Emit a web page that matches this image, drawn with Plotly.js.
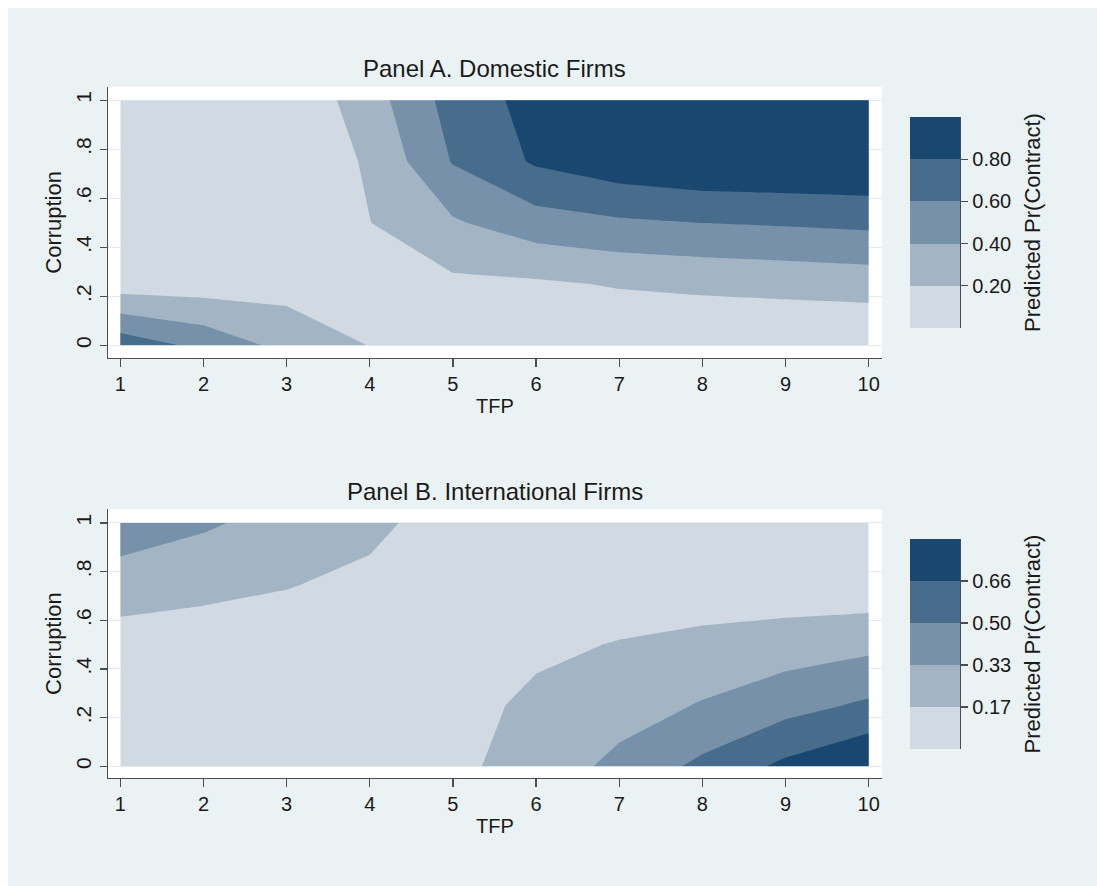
<!DOCTYPE html>
<html>
<head>
<meta charset="utf-8">
<script src="https://cdn.plot.ly/plotly-3.0.1.min.js"></script>
<style>
  html, body { margin: 0; padding: 0; background: #ffffff; }
  #plot { position: absolute; left: 8px; top: 8px; width: 1089px; height: 878px; }
</style>
</head>
<body>
<div id="plot"></div>
<script>
// ---- data ----
const tfp = [1, 2, 3, 4, 5, 6, 7, 8, 9, 10];
const corruption = [0, 0.25, 0.5, 0.75, 1];

// Panel A. Domestic firms: predicted Pr(Contract), rows = corruption, cols = TFP
const zDomestic = [
  [0.725, 0.546, 0.337, 0.195, 0.120, 0.070, 0.030, 0.012, 0.006, 0.003],
  [0.100, 0.100, 0.123, 0.140, 0.161, 0.172, 0.215, 0.243, 0.264, 0.287],
  [0.020, 0.030, 0.060, 0.197, 0.377, 0.514, 0.571, 0.602, 0.621, 0.645],
  [0.010, 0.020, 0.040, 0.226, 0.613, 0.826, 0.929, 0.983, 0.990, 0.998],
  [0.010, 0.015, 0.030, 0.311, 0.681, 0.870, 0.950, 0.985, 0.995, 0.999]
];

// Panel B. International firms
const zInternational = [
  [0.050, 0.060, 0.070, 0.090, 0.137, 0.2245, 0.381, 0.535, 0.700, 0.826],
  [0.060, 0.060, 0.060, 0.070, 0.112, 0.200, 0.256, 0.345, 0.438, 0.525],
  [0.100, 0.090, 0.080, 0.070, 0.080, 0.1375, 0.175, 0.210, 0.250, 0.290],
  [0.248, 0.211, 0.177, 0.130, 0.060, 0.050, 0.080, 0.074, 0.0625, 0.054],
  [0.437, 0.357, 0.270, 0.209, 0.090, 0.050, 0.030, 0.015, 0.008, 0.003]
];

const levelsA = [0.2, 0.4, 0.6, 0.8];
const levelsB = [0.1675, 0.3325, 0.4975, 0.6625];
const levelLabelsA = ['0.20', '0.40', '0.60', '0.80'];
const levelLabelsB = ['0.17', '0.33', '0.50', '0.66'];

const xTicks = [1, 2, 3, 4, 5, 6, 7, 8, 9, 10];
const yTicks = [0, 0.2, 0.4, 0.6, 0.8, 1];
const yTickLabels = ['0', '.2', '.4', '.6', '.8', '1'];

const bandColors = ['#d1dae2', '#a3b5c5', '#7691a9', '#486c8c', '#1a476f'];

// ---- styling ----
const FONT = 'Liberation Sans, Arial, sans-serif';
const TXT = '#1a1a1a';
const AXC = '#4d4d4d';
const bandScale = bandColors.map((c, i) => [i / (bandColors.length - 1), c]);

function contourTrace(z, levels, xa, ya) {
  return {
    type: 'contour', x: tfp, y: corruption, z: z,
    xaxis: xa, yaxis: ya,
    autocontour: false,
    contours: {
      start: levels[0], end: levels[levels.length - 1],
      size: levels[1] - levels[0], coloring: 'fill', showlines: false
    },
    colorscale: bandScale, showscale: false,
    line: { width: 0, smoothing: 0 },
    hoverinfo: 'skip'
  };
}

function legendTrace(xa, ya) {
  const idx = bandColors.map((c, i) => i);
  return {
    type: 'heatmap', x: [0], y: idx.map(i => i + 0.5), z: idx.map(i => [i]),
    zmin: 0, zmax: bandColors.length - 1,
    colorscale: bandScale, showscale: false,
    xaxis: xa, yaxis: ya, hoverinfo: 'skip', xgap: 0, ygap: 0
  };
}

const data = [
  contourTrace(zDomestic, levelsA, 'x', 'y'),
  contourTrace(zInternational, levelsB, 'x2', 'y2'),
  legendTrace('x3', 'y3'),
  legendTrace('x4', 'y4')
];

function xAxis(anchor, domain) {
  return {
    anchor: anchor, domain: domain, range: [0.852, 10.16],
    tickmode: 'array', tickvals: xTicks, ticktext: xTicks.map(String),
    ticks: 'outside', ticklen: 8, tickwidth: 1.3, tickcolor: AXC,
    showline: true, linecolor: AXC, linewidth: 1.3,
    showgrid: false, zeroline: false,
    tickfont: { family: FONT, size: 20, color: TXT },
    title: { text: 'TFP', font: { family: FONT, size: 20, color: TXT }, standoff: 4 }
  };
}
function yAxis(anchor, domain, range) {
  return {
    anchor: anchor, domain: domain, range: range,
    tickmode: 'array', tickvals: yTicks, ticktext: yTickLabels, tickangle: -90,
    ticks: 'outside', ticklen: 7, tickwidth: 1.3, tickcolor: AXC,
    showline: true, linecolor: AXC, linewidth: 1.3,
    showgrid: true, gridcolor: '#e3ebee', gridwidth: 1, zeroline: false,
    tickfont: { family: FONT, size: 21, color: TXT },
    title: { text: 'Corruption', font: { family: FONT, size: 22, color: TXT }, standoff: 4 }
  };
}
function legX(anchor, domain) {
  return { anchor: anchor, domain: domain, range: [-0.5, 0.5], visible: false, fixedrange: true };
}
function legY(anchor, domain, labels) {
  return {
    anchor: anchor, domain: domain, range: [0, bandColors.length], side: 'right',
    tickmode: 'array', tickvals: labels.map((l, i) => i + 1), ticktext: labels,
    ticks: 'outside', ticklen: 7, tickwidth: 1.3, tickcolor: AXC,
    showline: true, linecolor: AXC, linewidth: 1.3,
    showgrid: false, zeroline: false,
    tickfont: { family: FONT, size: 20, color: TXT },
    title: { text: 'Predicted Pr(Contract)', font: { family: FONT, size: 22, color: TXT }, standoff: 14 }
  };
}

const mainX = [0, 0.7826];
const legXDom = [0.81092, 0.86148];

const layout = {
  width: 1089, height: 878,
  margin: { l: 100, r: 0, t: 78, b: 108, pad: 0 },
  paper_bgcolor: '#eaf2f3', plot_bgcolor: '#ffffff',
  font: { family: FONT, color: TXT },
  showlegend: false,
  xaxis: xAxis('y', mainX),
  yaxis: yAxis('x', [0.6069, 0.999], [-0.052, 1.055]),
  xaxis2: xAxis('y2', mainX),
  yaxis2: yAxis('x2', [0, 0.3887], [-0.048, 1.057]),
  xaxis3: legX('y3', legXDom),
  yaxis3: legY('x3', [0.6503, 0.9552], levelLabelsA),
  xaxis4: legX('y4', legXDom),
  yaxis4: legY('x4', [0.0419, 0.3454], levelLabelsB),
  annotations: [
    { text: 'Panel A. Domestic Firms', xref: 'paper', yref: 'paper',
      x: 0.7826 / 2, y: 1.0246, xanchor: 'center', yanchor: 'middle', showarrow: false,
      font: { family: FONT, size: 24, color: TXT } },
    { text: 'Panel B. International Firms', xref: 'paper', yref: 'paper',
      x: 0.7826 / 2, y: 0.4139, xanchor: 'center', yanchor: 'middle', showarrow: false,
      font: { family: FONT, size: 24, color: TXT } }
  ]
};

Plotly.newPlot('plot', data, layout, { staticPlot: true, displayModeBar: false });
</script>
</body>
</html>
